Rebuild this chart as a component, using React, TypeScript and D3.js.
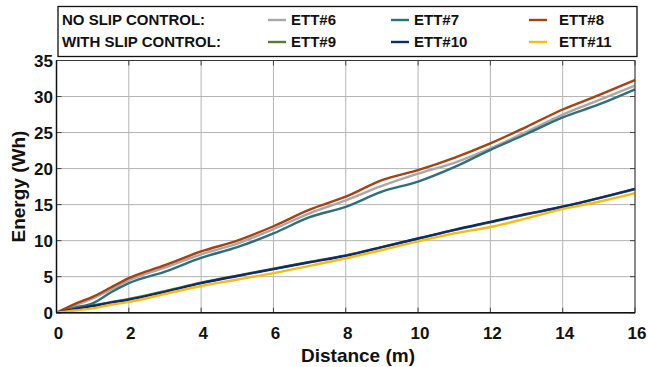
import * as d3 from "d3";

const distance = [0, 0.5, 1, 1.5, 2, 3, 4, 5, 6, 7, 8, 9, 10, 11, 12, 13, 14, 15, 16];

const ett6 = [0, 1.0, 2.0, 3.2, 4.5, 6.25, 8.1, 9.6, 11.6, 13.8, 15.6, 17.6, 19.3, 20.8, 22.8, 25.1, 27.5, 29.5, 31.5];
const ett7 = [0, 0.7, 1.3, 2.8, 4.1, 5.7, 7.6, 9.1, 11.0, 13.25, 14.7, 16.8, 18.2, 20.2, 22.6, 24.8, 27.1, 28.9, 31.0];
const ett8 = [0, 1.2, 2.2, 3.5, 4.8, 6.6, 8.5, 10.0, 12.0, 14.3, 16.1, 18.4, 19.8, 21.5, 23.5, 25.8, 28.2, 30.2, 32.3];
const ett9 = [0, 0.55, 1.0, 1.45, 1.9, 3.0, 4.15, 5.15, 6.1, 7.05, 7.95, 9.1, 10.3, 11.45, 12.55, 13.65, 14.7, 15.9, 17.15];
const ett10 = [0, 0.5, 0.93, 1.4, 1.8, 2.9, 4.1, 5.1, 6.05, 7.0, 7.9, 9.1, 10.3, 11.5, 12.6, 13.7, 14.7, 15.9, 17.2];
const ett11 = [0, 0.3, 0.6, 1.1, 1.5, 2.6, 3.7, 4.6, 5.5, 6.5, 7.55, 8.7, 9.9, 11.0, 11.9, 13.1, 14.4, 15.4, 16.6];

const xTicks = [0, 2, 4, 6, 8, 10, 12, 14, 16];
const yTicks = [0, 5, 10, 15, 20, 25, 30, 35];

const series = [
  { name: "ETT#6", values: ett6, color: "#a8a8a8" },
  { name: "ETT#7", values: ett7, color: "#2f6f7c" },
  { name: "ETT#8", values: ett8, color: "#a6420f" },
  { name: "ETT#9", values: ett9, color: "#5a7a38" },
  { name: "ETT#10", values: ett10, color: "#0f2b6e" },
  { name: "ETT#11", values: ett11, color: "#f7bb12" },
];

const W = 649;
const H = 367;
const FONT = "'Liberation Sans', Arial, sans-serif";

export default function App() {
  const x = d3.scaleLinear().domain([0, 16]).range([56.5, 635]);
  const y = d3.scaleLinear().domain([0, 35]).range([312.7, 60.5]);

  const line = d3
    .line<number>()
    .x((_, i) => x(distance[i]))
    .y((d) => y(d))
    .curve(d3.curveMonotoneX);

  const [x0, x1] = x.range();
  const [y0, y1] = y.range();

  // legend layout: two rows, three columns
  const legendCols = [268, 391, 529];
  const legendRows = [20, 42];

  return (
    <div style={{ position: "absolute", left: 0, top: 0 }}>
      <svg width={W} height={H} style={{ display: "block", background: "#fff" }}>
        {/* grid */}
        {xTicks.map((t) => (
          <line key={"gx" + t} x1={x(t)} x2={x(t)} y1={y0} y2={y1} stroke="#b4b4b4" strokeWidth={1} />
        ))}
        {yTicks.map((t) => (
          <line key={"gy" + t} x1={x0} x2={x1} y1={y(t)} y2={y(t)} stroke="#b4b4b4" strokeWidth={1} />
        ))}

        {/* inner tick marks */}
        {xTicks.map((t) => (
          <g key={"tx" + t}>
            <line x1={x(t)} x2={x(t)} y1={y0} y2={y0 - 5} stroke="#444" />
            <line x1={x(t)} x2={x(t)} y1={y1} y2={y1 + 5} stroke="#444" />
          </g>
        ))}
        {yTicks.map((t) => (
          <g key={"ty" + t}>
            <line x1={x0} x2={x0 + 5} y1={y(t)} y2={y(t)} stroke="#444" />
            <line x1={x1} x2={x1 - 5} y1={y(t)} y2={y(t)} stroke="#444" />
          </g>
        ))}

        {/* series */}
        {series.map((s) => (
          <path key={s.name} d={line(s.values) ?? ""} fill="none" stroke={s.color} strokeWidth={2.4} strokeLinejoin="round" />
        ))}

        {/* frame */}
        <rect x={x0} y={y1} width={x1 - x0} height={y0 - y1} fill="none" stroke="#3a3a3a" strokeWidth={1} />
        <line x1={x0} x2={x0} y1={y1} y2={y0} stroke="#111" strokeWidth={1.5} />
        <line x1={x0} x2={x1} y1={y0} y2={y0} stroke="#111" strokeWidth={1.5} />

        {/* tick labels */}
        {xTicks.map((t) => (
          <text key={"lx" + t} x={x(t) + 2} y={339} textAnchor="middle" fontFamily={FONT} fontWeight="bold" fontSize={17} fill="#111">
            {t}
          </text>
        ))}
        {yTicks.map((t) => (
          <text key={"ly" + t} x={53} y={y(t) + 6} textAnchor="end" fontFamily={FONT} fontWeight="bold" fontSize={17} fill="#111">
            {t}
          </text>
        ))}

        {/* axis titles */}
        <text x={358} y={362} textAnchor="middle" fontFamily={FONT} fontWeight="bold" fontSize={19} fill="#111">
          Distance (m)
        </text>
        <text
          transform={`translate(25,${(y0 + y1) / 2}) rotate(-90)`}
          textAnchor="middle"
          fontFamily={FONT}
          fontWeight="bold"
          fontSize={19}
          fill="#111"
        >
          Energy (Wh)
        </text>

        {/* legend */}
        <rect x={58} y={6.5} width={579} height={50} fill="#fff" stroke="#111" strokeWidth={1.3} />
        <text x={62} y={legendRows[0] + 5} fontFamily={FONT} fontWeight="bold" fontSize={15} fill="#111">
          NO SLIP CONTROL:
        </text>
        <text x={62} y={legendRows[1] + 5} fontFamily={FONT} fontWeight="bold" fontSize={15} fill="#111">
          WITH SLIP CONTROL:
        </text>
        {series.map((s, i) => {
          const cx = legendCols[i % 3];
          const cy = legendRows[Math.floor(i / 3)];
          return (
            <g key={"lg" + s.name}>
              <line x1={cx} x2={cx + 18} y1={cy} y2={cy} stroke={s.color} strokeWidth={2.4} />
              <text x={cx + (i % 3 === 2 ? 30 : 23)} y={cy + 5} fontFamily={FONT} fontWeight="bold" fontSize={15} fill="#111">
                {s.name}
              </text>
            </g>
          );
        })}
      </svg>
    </div>
  );
}
